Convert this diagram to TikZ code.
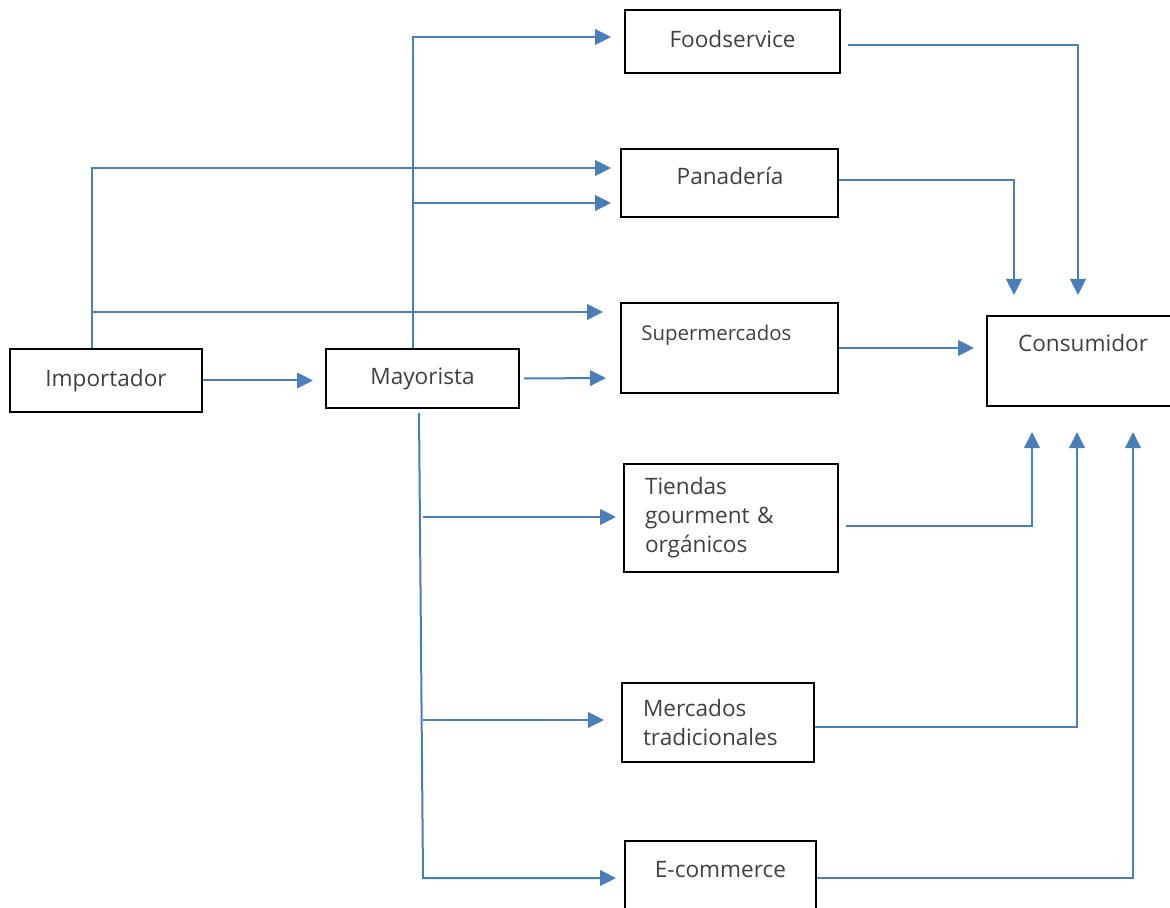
\documentclass[tikz,border=0pt]{standalone}
\usepackage{fontspec}
\setmainfont{Open Sans}
\usepackage{tikz}
\usetikzlibrary{positioning}
\usetikzlibrary{calc}
\usetikzlibrary{arrows.meta}
\usepackage{xcolor}
\definecolor{flowblue}{HTML}{4A7EBB}
\definecolor{txtgray}{HTML}{404040}

\begin{document}
\begin{tikzpicture}[x=0.5pt,y=-0.5pt,
    box/.style={draw=black, line width=1pt, inner sep=0pt, text=txtgray, font=\fontsize{11.3}{14.5}\selectfont},
    lbl/.style={inner sep=0pt, text=txtgray, font=\fontsize{11.3}{14.5}\selectfont},
    flow/.style={draw=flowblue, line width=1pt, -{Triangle[length=8pt,width=7.8pt]}}]
    \useasboundingbox (0,0) rectangle (1170,908);
    \clip (0,0) rectangle (1170,908);

    % boxes
    \node[box, minimum width=96pt, minimum height=31.5pt] (imp) at (106,380.5) {Importador};
    \node[box, minimum width=96.5pt, minimum height=29.5pt] (may) at (422.5,378.5) {Mayorista};
    \node[box, minimum width=107.5pt, minimum height=31.5pt, text depth=3pt] (food) at (732.5,41.5) {Foodservice};
    \node[box, minimum width=108.5pt, minimum height=34pt] (pan) at (729.5,183) {};
    \node[lbl, anchor=base] (panlbl) at (730,185) {Panadería};
    \node[box, minimum width=108.5pt, minimum height=45pt] (sup) at (729.5,348) {};
    \node[lbl, anchor=base west, font=\fontsize{10.2}{12}\selectfont] (suplbl) at (641,341) {Supermercados};
    \node[box, minimum width=92.5pt, minimum height=45pt] (con) at (1079.5,361) {};
    \node[lbl, anchor=base] (conlbl) at (1083,352) {Consumidor};
    \node[box, text width=86pt, inner xsep=10.5pt, align=left, minimum height=54pt] (tie) at (731,518) {Tiendas\\gourment \&\\orgánicos};
    \node[box, text width=75pt, inner xsep=10.5pt, align=left, minimum height=39.5pt] (mer) at (718,722.5) {Mercados\\tradicionales};
    \node[box, minimum width=95.5pt, minimum height=40pt] (eco) at (720.5,881) {};
    \node[lbl, anchor=base] (ecolbl) at (720.5,877) {E-commerce};

    % arrow ends
    \coordinate (foodin) at (611,37);
    \coordinate (panin1) at (611,168);
    \coordinate (panin2) at (611,203);
    \coordinate (supin1) at (603,312);
    \coordinate (supin2) at (606,378);
    \coordinate (tiein) at (616,517);
    \coordinate (merin) at (604,720);
    \coordinate (ecoin) at (616,878);
    \coordinate (mayfoot) at (423,878);
    \coordinate (contop1) at (1014,295);
    \coordinate (contop2) at (1078,295);
    \coordinate (conbot1) at (1032,432);
    \coordinate (conbot2) at (1077,432);
    \coordinate (conbot3) at (1133,432);

    % importador
    \draw[flow, shorten >=6pt] (imp) -- (imp -| may.west);
    \draw[flow] ([xshift=-7pt]imp.north) |- (panin1);
    \draw[flow] ([xshift=-7pt]imp.north |- supin1) -- (supin1);

    % mayorista
    \draw[flow] ([xshift=-4.75pt]may.north) |- (foodin);
    \draw[flow] ([xshift=-4.75pt]may.north |- panin2) -- (panin2);
    \draw[flow] ([xshift=2pt]may.east) -- (supin2);
    \draw[flow] ([xshift=-1.75pt,yshift=-2pt]may.south) -- (mayfoot) -- (ecoin);
    \draw[flow] (mayfoot |- tiein) -- (tiein);
    \draw[flow] (mayfoot |- merin) -- (merin);

    % to consumidor
    \draw[flow] ([xshift=3.5pt,yshift=-1.75pt]food.east) -| (contop2);
    \draw[flow] ([yshift=1.5pt]pan.east) -| (contop1);
    \draw[flow, shorten >=6pt] (sup) -- (sup -| con.west);
    \draw[flow] ([shift={(3.5pt,-4pt)}]tie.east) -| (conbot1);
    \draw[flow] ([yshift=-2.25pt]mer.east) -| (conbot2);
    \draw[flow] ([yshift=1.5pt]eco.east) -| (conbot3);
\end{tikzpicture}
\end{document}
